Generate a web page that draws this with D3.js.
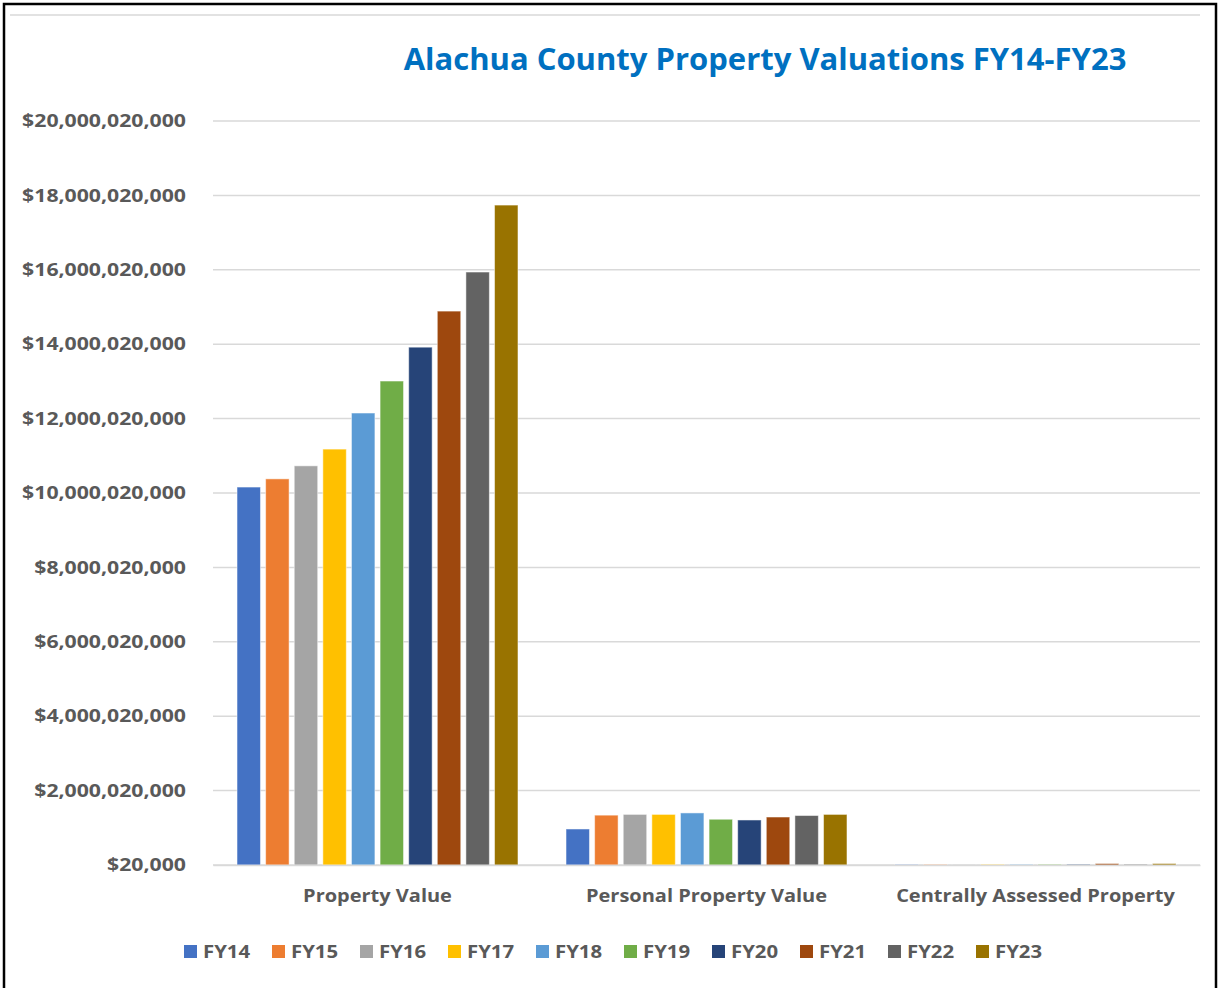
<!DOCTYPE html>
<html><head><meta charset="utf-8">
<script src="https://cdn.jsdelivr.net/npm/d3@7"></script>
<style>body{margin:0;background:#fff;} svg{display:block;}</style>
</head><body>
<script>
const categories = ["Property Value", "Personal Property Value", "Centrally Assessed Property"];
const seriesNames = ["FY14","FY15","FY16","FY17","FY18","FY19","FY20","FY21","FY22","FY23"];
const seriesColors = ["#4472C4","#ED7D31","#A5A5A5","#FFC000","#5B9BD5","#70AD47","#264478","#9E480E","#636363","#997300"];
const propertyValue = [10160000000,10380000000,10730000000,11180000000,12150000000,13010000000,13920000000,14890000000,15940000000,17740000000];
const personalPropertyValue = [968000000,1340000000,1360000000,1360000000,1400000000,1230000000,1210000000,1290000000,1330000000,1360000000];
const centrallyAssessed = [12000000,13000000,14000000,15000000,16000000,17000000,18000000,40000000,20000000,40000000];
const tickValues = [20000,2000020000,4000020000,6000020000,8000020000,10000020000,12000020000,14000020000,16000020000,18000020000,20000020000];
const title = "Alachua County Property Valuations FY14-FY23";

const W = 1220, H = 988;
const svg = d3.select("body").append("svg").attr("width", W).attr("height", H);
const font = "'Open Sans', sans-serif";
const gray = "#595959";

function stretch(sel, factor) {
  sel.each(function() {
    const len = this.getComputedTextLength();
    d3.select(this).attr("textLength", len * factor).attr("lengthAdjust", "spacingAndGlyphs");
  });
}

svg.append("rect").attr("x",4).attr("y",4).attr("width",W-8).attr("height",H+10)
  .attr("fill","none").attr("stroke","#000").attr("stroke-width",2.5);
svg.append("line").attr("x1",10).attr("x2",1200).attr("y1",15).attr("y2",15)
  .attr("stroke","#d9d9d9").attr("stroke-width",1.5);

svg.append("text").attr("x",765).attr("y",70).attr("text-anchor","middle")
  .attr("font-family",font).attr("font-weight","bold").attr("font-size",31)
  .attr("fill","#0070C0").text(title);

const plotL = 213, plotR = 1200;
const y = d3.scaleLinear().domain([20000, 20000020000]).range([865, 121]);
const x0 = d3.scaleBand().domain(categories).range([plotL, plotR]).paddingInner(0.146).paddingOuter(0.073);
const x1 = d3.scaleBand().domain(seriesNames).range([0, x0.bandwidth()]).paddingInner(0.18).paddingOuter(0);

const grid = svg.append("g");
grid.selectAll("line").data(tickValues).join("line")
  .attr("x1",plotL).attr("x2",plotR).attr("y1",d=>y(d)).attr("y2",d=>y(d))
  .attr("stroke","#d9d9d9").attr("stroke-width",1.5);

const yAxis = svg.append("g").attr("transform",`translate(${plotL},0)`)
  .call(d3.axisLeft(y).tickValues(tickValues).tickSize(0).tickPadding(27)
    .tickFormat(d => "$" + d3.format(",")(d)));
yAxis.select(".domain").remove();
yAxis.selectAll("text").attr("font-family",font).attr("font-weight","bold")
  .attr("font-size",18).attr("fill",gray);
stretch(yAxis.selectAll("text"), 1.18);

const data = [propertyValue, personalPropertyValue, centrallyAssessed];
const groups = svg.append("g").selectAll("g").data(categories).join("g")
  .attr("transform", d => `translate(${x0(d)},0)`);
groups.selectAll("rect").data((c,i) => seriesNames.map((s,j) => ({s, v: data[i][j], c: seriesColors[j]})))
  .join("rect")
  .attr("x", d => x1(d.s)).attr("width", x1.bandwidth())
  .attr("y", d => y(d.v)).attr("height", d => y(20000) - y(d.v))
  .attr("fill", d => d.c).attr("stroke","#fff").attr("stroke-opacity",0.5).attr("stroke-width",1);

const xAxis = svg.append("g").attr("transform","translate(0,865)")
  .call(d3.axisBottom(x0).tickSize(0).tickPadding(24));
xAxis.select(".domain").attr("stroke","#d9d9d9").attr("stroke-width",1.5);
xAxis.selectAll("text").attr("font-family",font).attr("font-weight","bold")
  .attr("font-size",18).attr("fill",gray);
stretch(xAxis.selectAll("text"), 1.11);

const legend = svg.append("g").selectAll("g").data(seriesNames).join("g")
  .attr("transform",(d,i)=>`translate(${184 + i*88},0)`);
legend.append("rect").attr("x",0).attr("y",945).attr("width",13).attr("height",13)
  .attr("fill",(d,i)=>seriesColors[i]);
const lt = legend.append("text").attr("x",19).attr("y",958).attr("font-family",font)
  .attr("font-weight","bold").attr("font-size",18).attr("fill",gray).text(d=>d);
stretch(lt, 1.13);
</script>
</body></html>
